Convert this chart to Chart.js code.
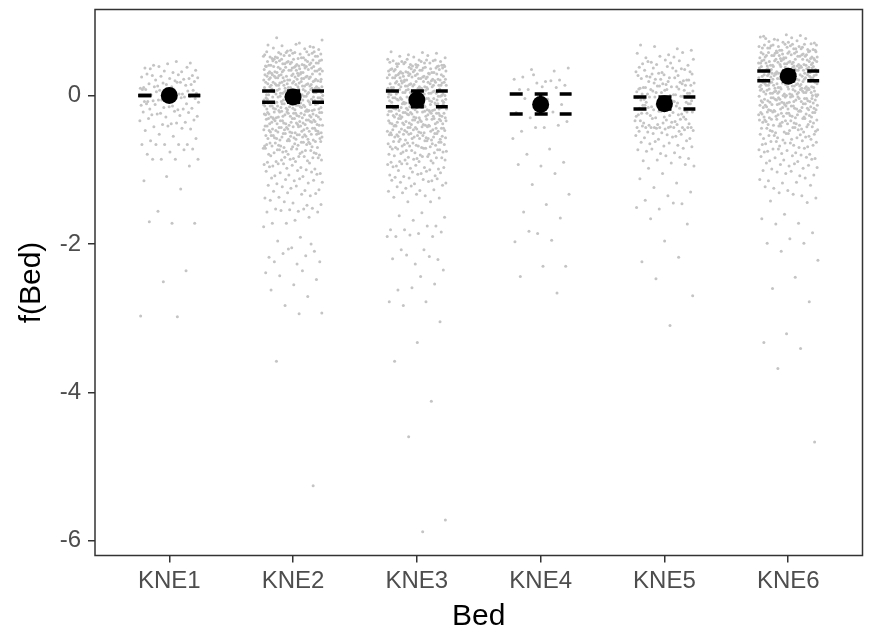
<!DOCTYPE html>
<html lang="en">
<head>
<meta charset="UTF-8">
<title>f(Bed)</title>
<script src="https://cdn.jsdelivr.net/npm/chart.js"></script>
<style>
  body { margin: 0; background: #ffffff; }
</style>
</head>
<body>
<canvas id="grafico" width="875" height="640"></canvas>

<script>
// categorias do eixo x
const camas = ['KNE1', 'KNE2', 'KNE3', 'KNE4', 'KNE5', 'KNE6'];

// efeito estimado e intervalo de confiança por cama
const estimativa = [0, -0.02, -0.06, -0.12, -0.11, 0.26];
const limiteSup = [0, 0.06, 0.06, 0.02, -0.02, 0.33];
const limiteInf = [0, -0.09, -0.15, -0.25, -0.18, 0.2];

const ticksY = [-6, -4, -2, 0];

// resíduos parciais (aproximados)
const res1 = [
  .46,.41,.44,.43,
  .37,.32,.39,.34,.31,.36,.38,.33,
  .25,.28,.21,.27,.23,.29,.22,.26,.24,.2,.27,.23,
  .15,.11,.18,.13,.19,.12,.16,.14,.17,.1,.18,.12,.15,
  .05,.08,.02,.07,.03,.09,.01,.06,.04,.08,.02,.05,.07,
  -.04,-.08,-.02,-.06,-.09,-.03,-.07,-.01,-.05,-.08,-.03,-.06,-.04,
  -.14,-.18,-.11,-.16,-.13,-.19,-.12,-.17,-.15,-.11,-.18,
  -.24,-.28,-.21,-.26,-.23,-.29,-.22,-.27,-.25,
  -.33,-.38,-.31,-.36,-.39,-.34,-.37,
  -.42,-.45,-.41,-.47,-.44,
  -.52,-.58,-.55,-.61,
  -.66,-.66,-.66,-.66,-.66,
  -.72,-.76,-.79,-.73,
  -.86,-.86,-.86,-.86,
  -.95,-1.09,-1.15,-1.26,-1.56,-1.72,-1.72,-1.7,-2.36,-2.51,-2.97,-2.98
];

const res2 = [
  .75,.71,.78,
  .65,.61,.68,.63,.67,.62,.69,.64,.66,.6,
  .55,.51,.58,.53,.57,.52,.59,.54,.56,.5,.52,.57,.54,.59,.51,.56,.53,.58,.5,.55,.58,.53,.56,.51,.59,
  .45,.41,.48,.43,.47,.42,.49,.44,.46,.4,.42,.47,.44,.49,.41,.46,.43,.48,.4,.45,.48,.43,.46,.41,.49,.44,.4,.47,.42,.45,
  .35,.31,.38,.33,.37,.32,.39,.34,.36,.3,.32,.37,.34,.39,.31,.36,.33,.38,.3,.35,.38,.33,.36,.31,.39,.34,.3,.37,.32,.35,.34,.39,
  .25,.21,.28,.23,.27,.22,.29,.24,.26,.2,.22,.27,.24,.29,.21,.26,.23,.28,.2,.25,.28,.23,.26,.21,.29,.24,.2,.27,.22,.25,.24,.29,.22,.26,
  .15,.11,.18,.13,.17,.12,.19,.14,.16,.1,.12,.17,.14,.19,.11,.16,.13,.18,.1,.15,.18,.13,.16,.11,.19,.14,.1,.17,.12,.15,.14,.19,.12,.16,.1,
  .05,.01,.08,.03,.07,.02,.09,.04,.06,0,.02,.07,.04,.09,.01,.06,.03,.08,0,.05,.08,.03,.06,.01,.09,.04,0,.07,.02,.05,.04,.09,.02,.06,0,
  -.05,-.01,-.08,-.03,-.07,-.02,-.09,-.04,-.06,-.1,-.02,-.07,-.04,-.09,-.01,-.06,-.03,-.08,-.1,-.05,-.08,-.03,-.06,-.01,-.09,-.04,-.1,-.07,-.02,-.05,-.04,-.09,-.02,-.06,-.1,
  -.15,-.11,-.18,-.13,-.17,-.12,-.19,-.14,-.16,-.2,-.12,-.17,-.14,-.19,-.11,-.16,-.13,-.18,-.2,-.15,-.18,-.13,-.16,-.11,-.19,-.14,-.2,-.17,-.12,-.15,-.14,-.19,-.12,
  -.25,-.21,-.28,-.23,-.27,-.22,-.29,-.24,-.26,-.3,-.22,-.27,-.24,-.29,-.21,-.26,-.23,-.28,-.3,-.25,-.28,-.23,-.26,-.21,-.29,-.24,-.3,-.27,-.22,-.25,-.24,-.29,
  -.35,-.31,-.38,-.33,-.37,-.32,-.39,-.34,-.36,-.4,-.32,-.37,-.34,-.39,-.31,-.36,-.33,-.38,-.4,-.35,-.38,-.33,-.36,-.31,-.39,-.34,-.4,-.37,-.32,-.35,
  -.45,-.41,-.48,-.43,-.47,-.42,-.49,-.44,-.46,-.5,-.42,-.47,-.44,-.49,-.41,-.46,-.43,-.48,-.5,-.45,-.48,-.43,-.46,-.41,-.49,-.44,-.5,-.47,
  -.55,-.51,-.58,-.53,-.57,-.52,-.59,-.54,-.56,-.6,-.52,-.57,-.54,-.59,-.51,-.56,-.53,-.58,-.6,-.55,-.58,-.53,-.56,-.51,-.59,-.54,
  -.65,-.61,-.68,-.63,-.67,-.62,-.69,-.64,-.66,-.7,-.62,-.67,-.64,-.69,-.61,-.66,-.63,-.68,-.7,-.65,-.68,-.63,
  -.75,-.71,-.78,-.73,-.77,-.72,-.79,-.74,-.76,-.8,-.72,-.77,-.74,-.79,-.71,-.76,-.73,-.78,
  -.85,-.81,-.88,-.83,-.87,-.82,-.89,-.84,-.86,-.9,-.82,-.87,-.84,-.89,
  -.95,-.91,-.98,-.93,-.97,-.92,-.99,-.94,-.96,-1,-.92,
  -1.05,-1.01,-1.08,-1.03,-1.07,-1.02,-1.09,-1.04,-1.06,
  -1.15,-1.11,-1.18,-1.13,-1.17,-1.12,-1.19,-1.14,
  -1.25,-1.21,-1.28,-1.23,-1.27,-1.22,-1.29,
  -1.35,-1.31,-1.38,-1.33,-1.37,-1.32,
  -1.45,-1.41,-1.48,-1.43,-1.47,
  -1.56,-1.53,-1.52,-1.54,-1.57,-1.53,-1.55,-1.57,-1.68,-1.72,-1.64,-1.72,-1.77,-1.91,-1.96,-2.1,-2.05,-2.18,
  -2.16,-2.13,-2.24,-2.27,-2.24,-2,-2.07,-2.39,-2.36,-2.43,-2.48,-2.55,-2.62,-2.71,-2.83,-2.93,-2.94,-3.58,-5.26
];

const res3 = [
  .55,.51,.58,.53,.57,.52,.59,.54,
  .45,.41,.48,.43,.47,.42,.49,.44,.46,.4,.42,.47,.44,.49,.41,.46,.43,.48,.4,.45,.48,.43,.46,.41,
  .35,.31,.38,.33,.37,.32,.39,.34,.36,.3,.32,.37,.34,.39,.31,.36,.33,.38,.3,.35,.38,.33,.36,.31,.39,.34,.3,.37,.32,.35,
  .25,.21,.28,.23,.27,.22,.29,.24,.26,.2,.22,.27,.24,.29,.21,.26,.23,.28,.2,.25,.28,.23,.26,.21,.29,.24,.2,.27,.22,.25,.24,.29,
  .15,.11,.18,.13,.17,.12,.19,.14,.16,.1,.12,.17,.14,.19,.11,.16,.13,.18,.1,.15,.18,.13,.16,.11,.19,.14,.1,.17,.12,.15,.14,.19,.12,
  .05,.01,.08,.03,.07,.02,.09,.04,.06,0,.02,.07,.04,.09,.01,.06,.03,.08,0,.05,.08,.03,.06,.01,.09,.04,0,.07,.02,.05,.04,.09,.02,
  -.05,-.01,-.08,-.03,-.07,-.02,-.09,-.04,-.06,-.1,-.02,-.07,-.04,-.09,-.01,-.06,-.03,-.08,-.1,-.05,-.08,-.03,-.06,-.01,-.09,-.04,-.1,-.07,-.02,-.05,-.04,-.09,-.02,
  -.15,-.11,-.18,-.13,-.17,-.12,-.19,-.14,-.16,-.2,-.12,-.17,-.14,-.19,-.11,-.16,-.13,-.18,-.2,-.15,-.18,-.13,-.16,-.11,-.19,-.14,-.2,-.17,-.12,-.15,-.14,-.19,
  -.25,-.21,-.28,-.23,-.27,-.22,-.29,-.24,-.26,-.3,-.22,-.27,-.24,-.29,-.21,-.26,-.23,-.28,-.3,-.25,-.28,-.23,-.26,-.21,-.29,-.24,-.3,-.27,-.22,-.25,-.24,
  -.35,-.31,-.38,-.33,-.37,-.32,-.39,-.34,-.36,-.4,-.32,-.37,-.34,-.39,-.31,-.36,-.33,-.38,-.4,-.35,-.38,-.33,-.36,-.31,-.39,-.34,-.4,-.37,-.32,
  -.45,-.41,-.48,-.43,-.47,-.42,-.49,-.44,-.46,-.5,-.42,-.47,-.44,-.49,-.41,-.46,-.43,-.48,-.5,-.45,-.48,-.43,-.46,-.41,-.49,-.44,-.5,
  -.55,-.51,-.58,-.53,-.57,-.52,-.59,-.54,-.56,-.6,-.52,-.57,-.54,-.59,-.51,-.56,-.53,-.58,-.6,-.55,-.58,-.53,-.56,-.51,
  -.65,-.61,-.68,-.63,-.67,-.62,-.69,-.64,-.66,-.7,-.62,-.67,-.64,-.69,-.61,-.66,-.63,-.68,-.7,-.65,-.68,
  -.75,-.71,-.78,-.73,-.77,-.72,-.79,-.74,-.76,-.8,-.72,-.77,-.74,-.79,-.71,-.76,-.73,
  -.85,-.81,-.88,-.83,-.87,-.82,-.89,-.84,-.86,-.9,-.82,-.87,-.84,-.89,
  -.95,-.91,-.98,-.93,-.97,-.92,-.99,-.94,-.96,-1,-.92,-.97,
  -1.05,-1.01,-1.08,-1.03,-1.07,-1.02,-1.09,-1.04,-1.06,-1.1,
  -1.15,-1.11,-1.18,-1.13,-1.17,-1.12,-1.19,-1.14,-1.16,
  -1.25,-1.21,-1.28,-1.23,-1.27,-1.22,-1.29,
  -1.35,-1.31,-1.38,-1.33,-1.37,
  -1.43,-1.43,-1.64,-1.58,-1.62,-1.76,-1.68,-1.81,-1.76,-1.81,-1.84,-1.86,-1.9,-1.9,-1.88,-1.9,-2.08,-2.08,-2.21,
  -2.27,-2.2,-2.17,-2.15,-2.35,-2.44,-2.62,-2.54,-2.59,-2.78,-2.78,-2.83,-3.05,-3.33,-3.58,-4.12,-4.6,-5.72,-5.88
];

const res4 = [
  .33,.35,.37,.19,.25,.21,.17,.22,.2,.08,.14,.12,.08,.11,.28,.02,-.05,-.04,-.12,-.15,-.23,-.22,-.3,-.35,
  -.43,-.48,-.4,-.43,-.58,-.72,-.79,-.9,-.95,-.93,-1.05,-1.2,-1.33,-1.47,-1.57,-1.65,-1.86,-1.97,-1.95,-1.83,
  -2.3,-2.3,-2.44,-2.66
];

const res5 = [
  .68,.63,.66,.61,
  .55,.51,.58,.53,.57,.52,
  .45,.41,.48,.43,.47,.42,.49,.44,.46,
  .35,.31,.38,.33,.37,.32,.39,.34,.36,.3,.32,.37,
  .25,.21,.28,.23,.27,.22,.29,.24,.26,.2,.22,.27,.24,.29,.21,
  .15,.11,.18,.13,.17,.12,.19,.14,.16,.1,.12,.17,.14,.19,.11,.16,.13,
  .05,.01,.08,.03,.07,.02,.09,.04,.06,0,.02,.07,.04,.09,.01,.06,.03,.08,
  -.05,-.01,-.08,-.03,-.07,-.02,-.09,-.04,-.06,-.1,-.02,-.07,-.04,-.09,-.01,-.06,-.03,-.08,
  -.15,-.11,-.18,-.13,-.17,-.12,-.19,-.14,-.16,-.2,-.12,-.17,-.14,-.19,-.11,-.16,-.13,
  -.25,-.21,-.28,-.23,-.27,-.22,-.29,-.24,-.26,-.3,-.22,-.27,-.24,-.29,-.21,-.26,
  -.35,-.31,-.38,-.33,-.37,-.32,-.39,-.34,-.36,-.4,-.32,-.37,-.34,-.39,
  -.43,-.43,-.43,-.43,-.43,-.43,-.43,-.43,-.43,-.43,
  -.45,-.41,-.48,-.44,-.47,-.42,-.49,-.46,-.5,-.48,
  -.55,-.51,-.58,-.53,-.57,-.52,-.59,-.54,-.56,
  -.65,-.61,-.68,-.63,-.67,-.62,-.69,-.64,
  -.75,-.71,-.78,-.73,-.77,-.72,
  -.85,-.81,-.88,-.83,-.87,
  -.95,-.91,-.98,-.93,
  -1.05,-1.12,-1.18,-1.24,-1.3,-1.35,-1.41,-1.46,
  -1.53,-1.51,-1.45,-1.66,-1.73,-1.96,-2.24,-2.18,-2.47,-2.7,-3.1
];

const res6 = [
  .82,.8,.81,
  .75,.71,.78,.73,.77,.72,.79,.74,.76,.7,.72,.77,
  .65,.61,.68,.63,.67,.62,.69,.64,.66,.6,.62,.67,.64,.69,.61,.66,.63,.68,.6,.65,.68,.63,.66,.61,.69,.64,
  .55,.51,.58,.53,.57,.52,.59,.54,.56,.5,.52,.57,.54,.59,.51,.56,.53,.58,.5,.55,.58,.53,.56,.51,.59,.54,.5,.57,.52,.55,.54,.59,
  .45,.41,.48,.43,.47,.42,.49,.44,.46,.4,.42,.47,.44,.49,.41,.46,.43,.48,.4,.45,.48,.43,.46,.41,.49,.44,.4,.47,.42,.45,.44,.49,.42,.46,.4,
  .35,.31,.38,.33,.37,.32,.39,.34,.36,.3,.32,.37,.34,.39,.31,.36,.33,.38,.3,.35,.38,.33,.36,.31,.39,.34,.3,.37,.32,.35,.34,.39,.32,.36,.3,.38,
  .25,.21,.28,.23,.27,.22,.29,.24,.26,.2,.22,.27,.24,.29,.21,.26,.23,.28,.2,.25,.28,.23,.26,.21,.29,.24,.2,.27,.22,.25,.24,.29,.22,.26,.2,.28,
  .15,.11,.18,.13,.17,.12,.19,.14,.16,.1,.12,.17,.14,.19,.11,.16,.13,.18,.1,.15,.18,.13,.16,.11,.19,.14,.1,.17,.12,.15,.14,.19,.12,.16,.1,
  .05,.01,.08,.03,.07,.02,.09,.04,.06,0,.02,.07,.04,.09,.01,.06,.03,.08,0,.05,.08,.03,.06,.01,.09,.04,0,.07,.02,.05,.04,.09,.02,.06,
  -.05,-.01,-.08,-.03,-.07,-.02,-.09,-.04,-.06,-.1,-.02,-.07,-.04,-.09,-.01,-.06,-.03,-.08,-.1,-.05,-.08,-.03,-.06,-.01,-.09,-.04,-.1,-.07,-.02,-.05,-.04,-.09,
  -.15,-.11,-.18,-.13,-.17,-.12,-.19,-.14,-.16,-.2,-.12,-.17,-.14,-.19,-.11,-.16,-.13,-.18,-.2,-.15,-.18,-.13,-.16,-.11,-.19,-.14,-.2,-.17,-.12,
  -.25,-.21,-.28,-.23,-.27,-.22,-.29,-.24,-.26,-.3,-.22,-.27,-.24,-.29,-.21,-.26,-.23,-.28,-.3,-.25,-.28,-.23,-.26,-.21,-.29,-.24,
  -.35,-.31,-.38,-.33,-.37,-.32,-.39,-.34,-.36,-.4,-.32,-.37,-.34,-.39,-.31,-.36,-.33,-.38,-.4,-.35,-.38,-.33,
  -.45,-.41,-.48,-.43,-.47,-.42,-.49,-.44,-.46,-.5,-.42,-.47,-.44,-.49,-.41,-.46,-.43,-.48,
  -.55,-.51,-.58,-.53,-.57,-.52,-.59,-.54,-.56,-.6,-.52,-.57,-.54,-.59,-.51,
  -.65,-.61,-.68,-.63,-.67,-.62,-.69,-.64,-.66,-.7,-.62,-.67,-.64,
  -.75,-.71,-.78,-.73,-.77,-.72,-.79,-.74,-.76,-.8,-.72,
  -.85,-.81,-.88,-.83,-.87,-.82,-.89,-.84,-.86,
  -.95,-.91,-.98,-.93,-.97,-.92,-.99,-.94,
  -1.05,-1.01,-1.08,-1.03,-1.07,-1.02,
  -1.15,-1.11,-1.18,-1.13,-1.17,
  -1.25,-1.21,-1.28,-1.23,
  -1.35,-1.31,-1.38,-1.33,
  -1.42,-1.44,-1.6,-1.66,-1.72,-1.73,-1.85,-1.93,-1.99,-1.99,-2.1,-2.22,-2.45,-2.6,-2.78,-3.21,-3.33,-3.41,-3.68,-4.67
];

const residuos = [res1, res2, res3, res4, res5, res6];

// espalhamento horizontal dos pontos (jitter determinístico, meia largura 0.24)
function deslocamento(i, g) {
    const u = ((i + 1) * 0.6180339887 + g * 0.37) % 1;
    return (u - 0.5) * 0.48;
}

let pontos = [];
for (let g = 0; g < residuos.length; g++) {
    for (let i = 0; i < residuos[g].length; i++) {
        pontos.push({ x: g + 1 + deslocamento(i, g), y: residuos[g][i] });
    }
}

// segmentos tracejados do intervalo e barra vertical
function segmentos(valores) {
    let d = [];
    valores.forEach(function (v, i) {
        d.push({ x: i + 0.75, y: v }, { x: i + 1.25, y: v }, { x: i + 1.5, y: null });
    });
    return d;
}

let barras = [];
for (let i = 0; i < camas.length; i++) {
    barras.push({ x: i + 1, y: limiteInf[i] }, { x: i + 1, y: limiteSup[i] }, { x: i + 1.5, y: null });
}

const fonte = "'Liberation Sans', Arial, sans-serif";

// moldura do painel (estilo ggplot)
const moldura = {
    id: 'moldura',
    afterDatasetsDraw(chart) {
        const { ctx, chartArea: a } = chart;
        ctx.save();
        ctx.strokeStyle = '#333333';
        ctx.lineWidth = 1.5;
        ctx.strokeRect(a.left, a.top, a.right - a.left, a.bottom - a.top);
        ctx.restore();
    }
};

const config = {
    type: 'scatter',
    data: {
        datasets: [
            {
                label: 'resíduos',
                data: pontos,
                pointRadius: 1.5,
                pointBackgroundColor: '#c4c4c4',
                pointBorderWidth: 0,
                order: 4
            },
            {
                label: 'superior',
                data: segmentos(limiteSup),
                showLine: true,
                borderColor: '#000000',
                borderWidth: 3.5,
                borderDash: [13, 12],
                pointRadius: 0,
                spanGaps: false,
                order: 3
            },
            {
                label: 'inferior',
                data: segmentos(limiteInf),
                showLine: true,
                borderColor: '#000000',
                borderWidth: 3.5,
                borderDash: [13, 12],
                pointRadius: 0,
                spanGaps: false,
                order: 3
            },
            {
                label: 'barra',
                data: barras,
                showLine: true,
                borderColor: '#000000',
                borderWidth: 3.5,
                pointRadius: 0,
                spanGaps: false,
                order: 2
            },
            {
                label: 'estimativa',
                data: estimativa.map(function (v, i) { return { x: i + 1, y: v }; }),
                pointRadius: 8.5,
                pointBackgroundColor: '#000000',
                pointBorderWidth: 0,
                order: 1
            }
        ]
    },
    options: {
        responsive: false,
        animation: false,
        devicePixelRatio: 1,
        layout: { padding: { top: 9.5, right: 12.5, left: 0, bottom: 0 } },
        plugins: { legend: { display: false }, tooltip: { enabled: false } },
        scales: {
            x: {
                type: 'linear',
                min: 0.4,
                max: 6.6,
                afterBuildTicks: function (s) { s.ticks = camas.map(function (c, i) { return { value: i + 1 }; }); },
                afterFit: function (s) { s.height = 84.5; s.paddingLeft = 0; s.paddingRight = 0; },
                grid: { drawOnChartArea: false, drawTicks: true, tickLength: 7, color: '#333333', lineWidth: 1.5 },
                border: { display: false },
                ticks: {
                    autoSkip: false,
                    maxRotation: 0,
                    padding: 4,
                    color: '#4d4d4d',
                    font: { family: fonte, size: 24 },
                    callback: function (v, i) { return camas[i]; }
                },
                title: { display: true, text: 'Bed', color: '#000000', font: { family: fonte, size: 30 }, padding: { top: 0, bottom: 5 } }
            },
            y: {
                min: -6.2,
                max: 1.16,
                afterBuildTicks: function (s) { s.ticks = ticksY.map(function (v) { return { value: v }; }); },
                afterFit: function (s) { s.width = 95; s.paddingTop = 0; s.paddingBottom = 0; },
                grid: { drawOnChartArea: false, drawTicks: true, tickLength: 7, color: '#333333', lineWidth: 1.5 },
                border: { display: false },
                ticks: {
                    padding: 7,
                    color: '#4d4d4d',
                    font: { family: fonte, size: 24 }
                },
                title: { display: true, text: 'f(Bed)', color: '#000000', font: { family: fonte, size: 30 }, padding: { top: 14, bottom: 0 } }
            }
        }
    },
    plugins: [moldura]
};

let grafico = new Chart(document.getElementById('grafico'), config);
</script>
</body>
</html>
